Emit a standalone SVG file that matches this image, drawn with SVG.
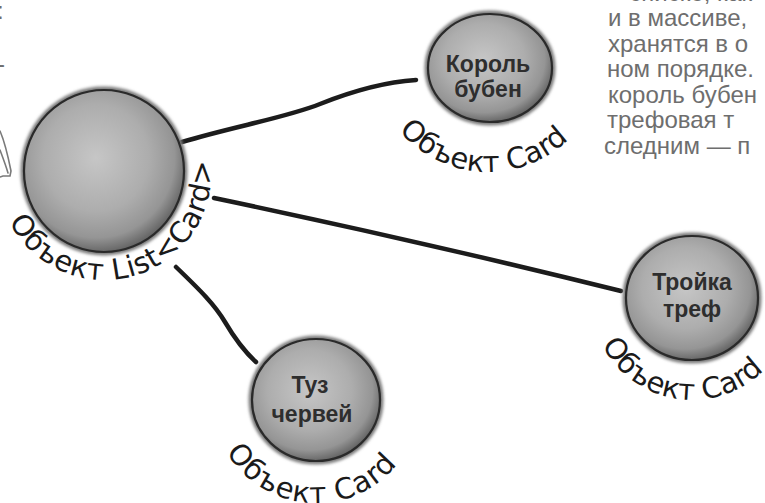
<svg xmlns="http://www.w3.org/2000/svg" width="765" height="503" viewBox="0 0 765 503">
  <defs>
    <radialGradient id="ball" cx="45%" cy="42%" r="60%">
      <stop offset="0" stop-color="#c6c6c6"/>
      <stop offset="0.55" stop-color="#adadad"/>
      <stop offset="0.82" stop-color="#959595"/>
      <stop offset="1" stop-color="#5e5e5e"/>
    </radialGradient>
    <filter id="soft" x="-20%" y="-20%" width="140%" height="140%">
      <feGaussianBlur stdDeviation="1.8"/>
    </filter>
    <!-- baselines for the curved object labels -->
    <path id="arcList" d="M2.8,206.8 A107,107 0 0,0 207.4,144.3"/>
    <path id="arcKing" d="M372,53 A116,116 0 0,0 603.6,65.1"/>
    <path id="arcThree" d="M591.8,287.7 A101,101 0 0,0 791.1,319.3"/>
    <path id="arcAce" d="M212.1,396.4 A104,104 0 0,0 419.4,410.9"/>
  </defs>
  <style>
    .halo { fill: none; stroke: #7c7c7c; stroke-width: 7; filter: url(#soft); }
    .ball { fill: url(#ball); stroke: #2a2a2a; stroke-width: 2.2; }
    .card { font-family: "Liberation Sans", Arial, sans-serif; font-weight: bold; font-size: 23px; fill: #2e2e2e; text-anchor: middle; }
    .lbl { font-family: "DejaVu Sans", "Liberation Sans", sans-serif; font-size: 29px; fill: #1a1a1a; }
    .note { font-family: "Liberation Sans", Arial, sans-serif; font-size: 24px; fill: #6e6e6e; }
    .link { fill: none; stroke: #1c1c1c; stroke-width: 4.5; stroke-linecap: round; stroke-linejoin: round; }
    .doodle { fill: none; stroke: #7a7a7a; stroke-width: 1.6; stroke-linecap: round; }
  </style>

  <rect width="765" height="503" fill="#ffffff"/>

  <!-- fragments at the left margin -->
  <g id="margin">
    <text class="note" x="-3" y="19">:</text>
    <text class="note" x="-3" y="72">-</text>
    <path class="doodle" d="M0,131 C4,140 8,156 11,171 L10,176 L3,176 L0,177"/>
    <path class="doodle" d="M0,150 C3,158 6,166 8,173"/>
  </g>

  <!-- side note -->
  <g id="note">
    <text class="note" x="752" y="0.5" text-anchor="end">списке, как</text>
    <text class="note" x="608" y="26">и в массиве,</text>
    <text class="note" x="608" y="52">хранятся в о</text>
    <text class="note" x="607" y="77">ном порядке.</text>
    <text class="note" x="608" y="103">король бубен</text>
    <text class="note" x="607" y="128">трефовая т</text>
    <text class="note" x="604" y="154">следним — п</text>
  </g>

  <!-- connectors -->
  <g id="links">
    <path class="link" d="M182,142 C235,126 285,118 320,104 C350,92 385,82 416,80"/>
    <path class="link" d="M214,198 Q415,240 621,291"/>
    <path class="link" d="M176,267 C200,290 215,305 225,322 S245,352 256,362"/>
  </g>

  <!-- List<Card> object -->
  <g id="list">
    <ellipse class="halo" cx="104" cy="171" rx="80" ry="81"/>
    <ellipse class="ball" cx="104" cy="171" rx="80" ry="81"/>
    <text class="lbl" letter-spacing="0.5"><textPath href="#arcList" startOffset="50%" text-anchor="middle">Объект List&lt;Card&gt;</textPath></text>
  </g>

  <!-- King of diamonds -->
  <g id="king">
    <ellipse class="halo" cx="490" cy="68" rx="62" ry="54"/>
    <ellipse class="ball" cx="490" cy="68" rx="62" ry="54"/>
    <text class="card" x="488" y="72">Король</text>
    <text class="card" x="488" y="97">бубен</text>
    <text class="lbl"><textPath href="#arcKing" startOffset="50%" text-anchor="middle">Объект Card</textPath></text>
  </g>

  <!-- Three of clubs -->
  <g id="three">
    <ellipse class="halo" cx="692" cy="298" rx="66" ry="62"/>
    <ellipse class="ball" cx="692" cy="298" rx="66" ry="62"/>
    <text class="card" x="692" y="290">Тройка</text>
    <text class="card" x="692" y="317">треф</text>
    <text class="lbl"><textPath href="#arcThree" startOffset="50%" text-anchor="middle">Объект Card</textPath></text>
  </g>

  <!-- Ace of hearts -->
  <g id="ace">
    <ellipse class="halo" cx="316" cy="400" rx="64" ry="61"/>
    <ellipse class="ball" cx="316" cy="400" rx="64" ry="61"/>
    <text class="card" x="310" y="393">Туз</text>
    <text class="card" x="312" y="422">червей</text>
    <text class="lbl" letter-spacing="1"><textPath href="#arcAce" startOffset="50%" text-anchor="middle">Объект Card</textPath></text>
  </g>
</svg>
